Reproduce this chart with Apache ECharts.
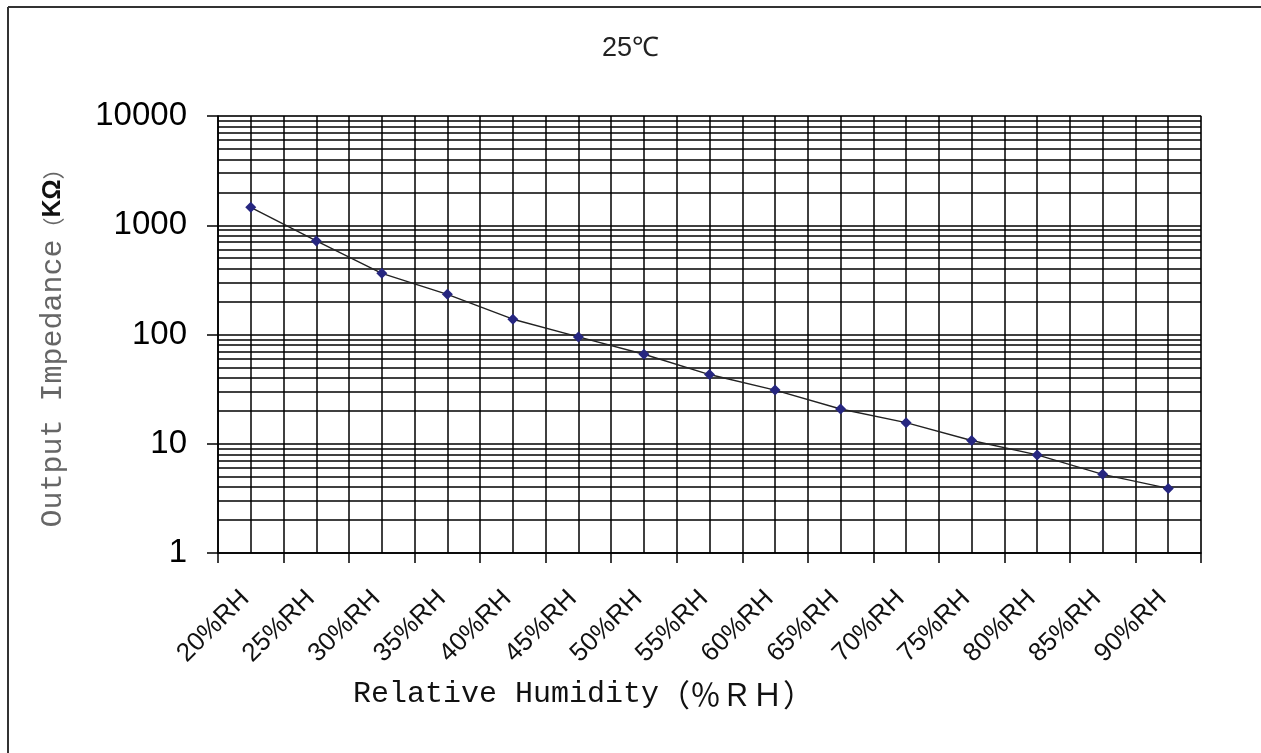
<!DOCTYPE html>
<html>
<head>
<meta charset="utf-8">
<script src="https://cdn.jsdelivr.net/npm/echarts@6/dist/echarts.min.js"></script>
<style>html,body{margin:0;padding:0;background:#fff;}#chart{width:1261px;height:753px;}</style>
</head>
<body>
<div id="chart"></div>
<script>
// ---- data ----
const categories = ['20%RH','25%RH','30%RH','35%RH','40%RH','45%RH','50%RH','55%RH','60%RH','65%RH','70%RH','75%RH','80%RH','85%RH','90%RH'];
const impedance = [1460, 718, 363, 233, 138, 95, 66, 43, 31, 20.8, 15.6, 10.7, 7.9, 5.25, 3.9];
const yTickLabels = [1, 10, 100, 1000, 10000];
const minorGridValues = [2,3,4,5,6,7,8,9, 20,30,40,50,60,70,80,90, 200,300,400,500,600,700,800,900, 2000,3000,4000,5000,6000,7000,8000,9000];
const titleText = '25℃';

// half-category helper axis (vertical grid lines at each half category)
const halfCategories = [];
categories.forEach(c => { halfCategories.push(c + '_a'); halfCategories.push(c + '_b'); });

const chart = echarts.init(document.getElementById('chart'), null, {renderer: 'canvas'});
const gridLine = {color: '#000', width: 1.5};

const option = {
  animation: false,
  backgroundColor: '#fff',
  title: {
    text: titleText,
    left: 'center',
    top: 30,
    padding: [5, 0, 5, 8],
    textStyle: {fontFamily: 'Liberation Sans', fontSize: 27, fontWeight: 'normal', color: '#222'}
  },
  grid: {left: 218, right: 60, top: 116, bottom: 200, show: true, borderColor: '#bbb', borderWidth: 1.5},
  xAxis: [
    {
      type: 'category',
      data: categories,
      boundaryGap: true,
      axisLine: {show: true, lineStyle: gridLine},
      axisTick: {show: true, interval: 0, length: 10, lineStyle: gridLine},
      axisLabel: {interval: 0, rotate: 45, margin: 36, padding: [0, 8, 0, 0], fontFamily: 'Liberation Sans', fontSize: 26, color: '#111'},
      splitLine: {show: false},
      name: '{a|Relative Humidity}{b|（％ＲＨ）}',
      nameLocation: 'middle',
      nameGap: 126,
      nameTextStyle: {
        padding: [0, 252, 0, 0],
        rich: {
          a: {fontFamily: 'Liberation Mono', fontSize: 30, color: '#111'},
          b: {fontFamily: 'Noto Sans CJK SC', fontSize: 31, color: '#111'}
        }
      }
    },
    {
      type: 'category',
      data: halfCategories,
      position: 'bottom',
      boundaryGap: true,
      axisLine: {show: false},
      axisTick: {show: false},
      axisLabel: {show: false},
      splitLine: {show: true, interval: 0, lineStyle: gridLine}
    }
  ],
  yAxis: {
    type: 'log',
    logBase: 10,
    min: 1,
    max: 10000,
    axisLine: {show: true, lineStyle: gridLine},
    axisTick: {show: true, length: 11, lineStyle: gridLine},
    axisLabel: {
      margin: 31,
      fontFamily: 'Liberation Sans',
      fontSize: 33,
      color: '#000',
      formatter: v => (yTickLabels.indexOf(Math.round(v)) >= 0 ? String(Math.round(v)) : '')
    },
    splitLine: {show: true, lineStyle: gridLine},
    name: '{a|Output Impedance}{p|（}{k|KΩ}{p|）}',
    nameLocation: 'middle',
    nameRotate: 90,
    nameGap: 150,
    nameTextStyle: {
      padding: [0, 16, 0, 0],
      rich: {
        a: {fontFamily: 'Liberation Mono', fontSize: 30, color: '#666'},
        p: {fontFamily: 'Noto Sans CJK SC', fontSize: 22, color: '#666'},
        k: {fontFamily: 'Liberation Sans', fontSize: 25, fontWeight: 'bold', color: '#111'}
      }
    }
  },
  graphic: [
    {type: 'line', shape: {x1: 8, y1: 7, x2: 8, y2: 753}, style: {stroke: '#333', lineWidth: 2}, silent: true},
    {type: 'line', shape: {x1: 8, y1: 7, x2: 1261, y2: 7}, style: {stroke: '#333', lineWidth: 2}, silent: true}
  ],
  series: [
    {
      name: 'minorGrid',
      type: 'line',
      data: [],
      z: 1,
      silent: true,
      markLine: {
        silent: true,
        symbol: 'none',
        label: {show: false},
        lineStyle: {color: '#000', width: 1.5, type: 'solid'},
        emphasis: {disabled: true},
        data: minorGridValues.map(v => ({yAxis: v}))
      }
    },
    {
      name: 'Output Impedance',
      type: 'line',
      data: impedance,
      z: 5,
      symbol: 'diamond',
      symbolSize: 11,
      lineStyle: {color: '#222', width: 1.4},
      itemStyle: {color: '#262680'}
    }
  ]
};
chart.setOption(option);
</script>
</body>
</html>
